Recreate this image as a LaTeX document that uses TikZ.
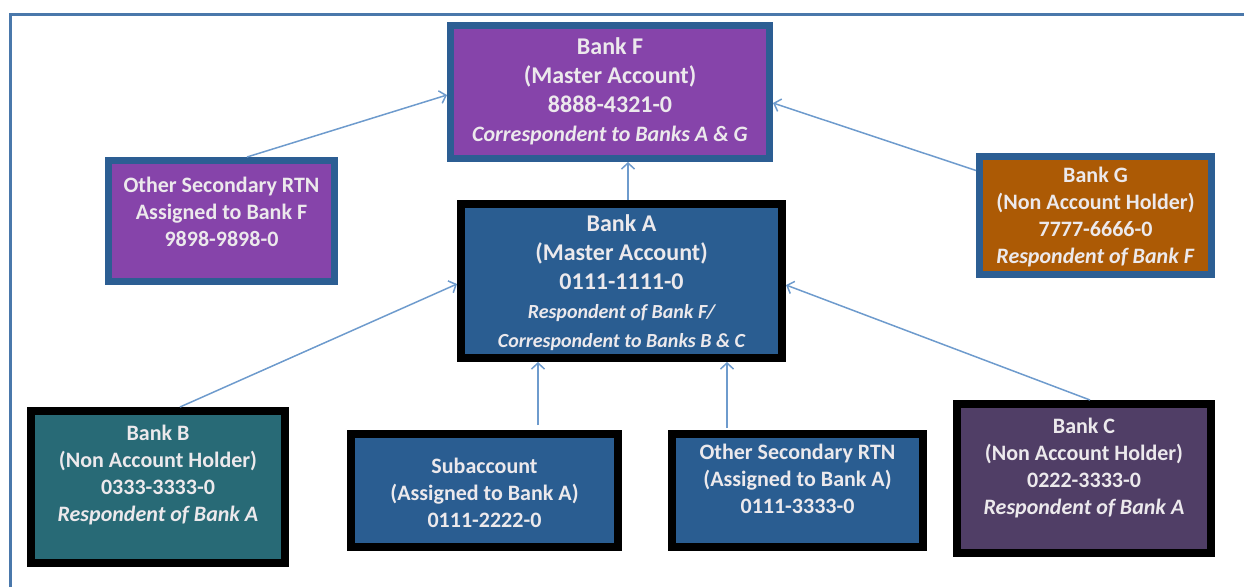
\documentclass[tikz,border=0pt]{standalone}
\usepackage{fontspec}
\setmainfont{Carlito}
\usetikzlibrary{arrows.meta}
\definecolor{bordblue}{RGB}{44,94,147}
\definecolor{fpurple}{RGB}{134,68,170}
\definecolor{ablue}{RGB}{42,93,145}
\definecolor{gorange}{RGB}{172,90,5}
\definecolor{bteal}{RGB}{40,106,118}
\definecolor{cplum}{RGB}{80,62,102}
\definecolor{arrowc}{RGB}{110,155,205}
\definecolor{framec}{RGB}{74,120,171}
\definecolor{textc}{RGB}{236,233,236}
\begin{document}
\begin{tikzpicture}[x=1pt,y=-1pt,
  box/.style={rectangle, inner sep=0pt},
  bluebox/.style={box, draw=bordblue, line width=7pt},
  blackbox/.style={box, draw=black, line width=8pt},
  txt/.style={text=textc, font=\bfseries\fontsize{22}{27}\selectfont, align=center, inner sep=0pt},
  bigtxt/.style={txt, font=\bfseries\fontsize{24}{29}\selectfont},
  arr/.style={draw=arrowc, line width=1.5pt, -{Straight Barb[length=6pt,width=13pt]}}]
\useasboundingbox (0,0) rectangle (1244,587);
% frame
\draw[framec, line width=3pt] (10,587) -- (10,14) -- (1244,14);
% boxes
\node[bluebox, fill=fpurple, minimum width=319pt, minimum height=133pt] (F) at (610,92) {};
\node[bluebox, fill=fpurple, minimum width=226pt, minimum height=121pt] (OF) at (221.5,221) {};
\node[bluebox, fill=gorange, minimum width=232pt, minimum height=118pt] (G) at (1095.5,215.5) {};
\node[blackbox, fill=ablue, minimum width=321pt, minimum height=154pt] (A) at (621.5,281) {};
\node[blackbox, fill=bteal, minimum width=254pt, minimum height=152pt] (B) at (158,487) {};
\node[blackbox, fill=ablue, minimum width=267pt, minimum height=113pt] (S) at (484.5,490.5) {};
\node[blackbox, fill=ablue, minimum width=251pt, minimum height=113pt] (OA) at (797.5,490.5) {};
\node[blackbox, fill=cplum, minimum width=254pt, minimum height=149pt] (C) at (1084,478.5) {};
% texts
\node[bigtxt] (Ft) at (610,91.5) {Bank F\\(Master Account)\\8888-4321-0\\{\fontsize{22}{29}\selectfont\itshape Correspondent to Banks A \& G}};
\node[txt] (OFt) at (221.5,211.5) {Other Secondary RTN\\Assigned to Bank F\\9898-9898-0};
\node[txt] (Gt) at (1095.5,217.5) {Bank G\\(Non Account Holder)\\7777-6666-0\\\textit{Respondent of Bank F}};
\node[bigtxt] (At) at (621.5,283) {Bank A\\(Master Account)\\0111-1111-0\\{\fontsize{20}{26}\selectfont\itshape Respondent of Bank F/}\\{\fontsize{20}{26}\selectfont\itshape Correspondent to Banks B \& C}};
\node[txt] (Bt) at (158,475) {Bank B\\(Non Account Holder)\\0333-3333-0\\\textit{Respondent of Bank A}};
\node[txt] (St) at (484.5,493) {Subaccount\\(Assigned to Bank A)\\0111-2222-0};
\node[txt] (OAt) at (797.5,479) {Other Secondary RTN\\(Assigned to Bank A)\\0111-3333-0};
\node[txt] (Ct) at (1084,468.5) {Bank C\\(Non Account Holder)\\0222-3333-0\\\textit{Respondent of Bank A}};
% connectors
\draw[arr] ([xshift=25.5pt]OF.north) -- ([yshift=-3pt]F.west);
\draw[arr] ([yshift=45pt]G.west) -- ([yshift=-11pt]F.east);
\draw[arr] ([xshift=6.5pt]A.north) -- ([xshift=18pt]F.south);
\draw[arr] ([xshift=22pt]B.north) -- ([yshift=-3pt]A.west);
\draw[arr] ([xshift=53.5pt,yshift=5pt]S.north) -- ([xshift=-83.5pt]A.south);
\draw[arr] ([xshift=-70.5pt,yshift=2pt]OA.north) -- ([xshift=105.5pt]A.south);
\draw[arr] ([xshift=6pt]C.north) -- ([yshift=-4pt]A.east);
\end{tikzpicture}
\end{document}
